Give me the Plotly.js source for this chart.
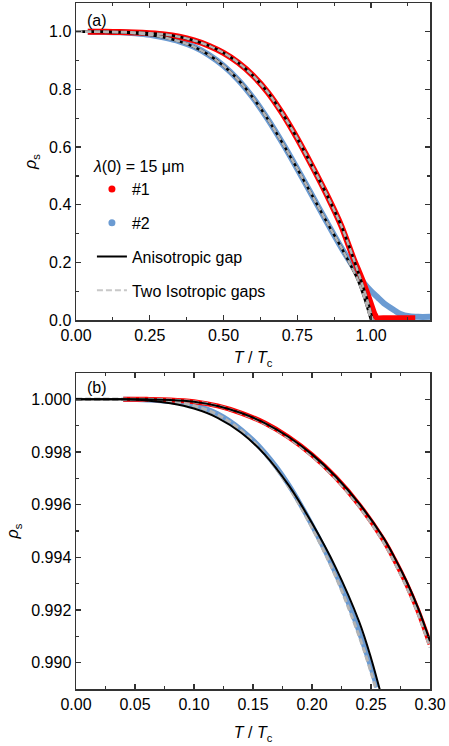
<!DOCTYPE html>
<html>
<head>
<meta charset="utf-8">
<script src="https://cdn.plot.ly/plotly-3.0.1.min.js"></script>
<style>html,body{margin:0;padding:0;background:#fff;}#chart{width:449px;height:746px;}</style>
</head>
<body>
<div id="chart"></div>
<script>
// ---------- Panel (a): full temperature range ----------
const aT1 = [0.04, 0.10, 0.15, 0.20, 0.25, 0.30, 0.35, 0.40, 0.45, 0.50, 0.55, 0.60, 0.65, 0.70, 0.75, 0.80, 0.85, 0.90, 0.94, 0.97, 1.00, 1.012, 1.02, 1.05, 1.15];
const aR1 = [1.0, 0.9999, 0.9995, 0.998, 0.995, 0.991, 0.983, 0.97, 0.952, 0.927, 0.893, 0.848, 0.79, 0.716, 0.63, 0.535, 0.435, 0.325, 0.215, 0.14, 0.055, 0.02, 0.007, 0.006, 0.006];
const aT2 = [0.04, 0.10, 0.15, 0.20, 0.25, 0.30, 0.35, 0.40, 0.45, 0.50, 0.55, 0.60, 0.65, 0.70, 0.75, 0.80, 0.85, 0.90, 0.95, 0.976, 1.0, 1.023, 1.044, 1.079, 1.10, 1.13, 1.16, 1.2];
const aR2 = [1.0, 0.9998, 0.9985, 0.9952, 0.9898, 0.98, 0.967, 0.948, 0.92, 0.882, 0.833, 0.771, 0.697, 0.614, 0.525, 0.433, 0.34, 0.25, 0.168, 0.128, 0.10, 0.078, 0.058, 0.034, 0.021, 0.013, 0.011, 0.011];
// fits, panel (a)
const aFitT1 = [0, 0.10, 0.15, 0.20, 0.25, 0.30, 0.35, 0.40, 0.45, 0.50, 0.55, 0.60, 0.65, 0.70, 0.75, 0.80, 0.85, 0.90, 0.94, 0.97, 0.99, 1.005];
const aFitR1 = [1.0, 0.9999, 0.9995, 0.998, 0.995, 0.991, 0.983, 0.97, 0.952, 0.927, 0.893, 0.848, 0.79, 0.716, 0.63, 0.535, 0.435, 0.325, 0.215, 0.125, 0.06, 0.0];
const aFitT2 = [0, 0.10, 0.15, 0.20, 0.25, 0.30, 0.35, 0.40, 0.45, 0.50, 0.55, 0.60, 0.65, 0.70, 0.75, 0.80, 0.85, 0.90, 0.93, 0.955, 0.978, 1.0];
const aFitR2 = [1.0, 0.9998, 0.9985, 0.9952, 0.9898, 0.98, 0.967, 0.948, 0.92, 0.882, 0.833, 0.771, 0.697, 0.614, 0.525, 0.433, 0.34, 0.25, 0.192, 0.14, 0.075, 0.0];

// ---------- Panel (b): low temperature zoom ----------
const bT1 = [0.04, 0.06, 0.08, 0.10, 0.12, 0.14, 0.16, 0.18, 0.20, 0.22, 0.24, 0.26, 0.27, 0.28, 0.29, 0.30];
const bR1 = [1.0, 1.0, 0.99998, 0.99991, 0.99975, 0.99948, 0.9991, 0.99857, 0.99789, 0.99704, 0.99599, 0.9947, 0.9939, 0.993, 0.99195, 0.9907];
const bT2 = [0.04, 0.06, 0.08, 0.10, 0.11, 0.12, 0.13, 0.14, 0.15, 0.16, 0.17, 0.18, 0.19, 0.20, 0.21, 0.22, 0.23, 0.24, 0.25, 0.255];
const bR2 = [1.0, 0.99998, 0.99992, 0.99978, 0.99965, 0.99945, 0.99918, 0.99885, 0.99845, 0.99798, 0.99742, 0.99677, 0.99603, 0.99522, 0.99435, 0.9934, 0.99236, 0.99117, 0.98982, 0.98906];
// anisotropic gap fits, panel (b)
const bAnT1 = [0, 0.04, 0.06, 0.08, 0.10, 0.12, 0.14, 0.16, 0.18, 0.20, 0.22, 0.24, 0.26, 0.27, 0.28, 0.29, 0.30];
const bAnR1 = [1.0, 1.0, 1.0, 0.99998, 0.99991, 0.99975, 0.99948, 0.9991, 0.99858, 0.99791, 0.99707, 0.99604, 0.99478, 0.99399, 0.9931, 0.99206, 0.99082];
const bAnT2 = [0, 0.04, 0.06, 0.08, 0.10, 0.12, 0.14, 0.16, 0.18, 0.20, 0.22, 0.24, 0.25, 0.257, 0.26];
const bAnR2 = [1.0, 1.0, 0.99996, 0.99985, 0.99965, 0.9993, 0.99873, 0.9979, 0.99675, 0.9953, 0.99362, 0.99155, 0.99018, 0.98905, 0.98855];
// two isotropic gaps fits, panel (b)
const bIsT1 = [0, 0.04, 0.06, 0.08, 0.10, 0.12, 0.14, 0.16, 0.18, 0.20, 0.22, 0.24, 0.26, 0.27, 0.28, 0.29, 0.30];
const bIsR1 = [1.0, 1.0, 1.0, 0.99998, 0.99991, 0.99975, 0.99947, 0.99908, 0.99854, 0.99785, 0.99699, 0.99593, 0.99462, 0.9938, 0.99289, 0.99184, 0.99058];
const bIsT2 = [0, 0.04, 0.06, 0.08, 0.10, 0.12, 0.14, 0.16, 0.18, 0.20, 0.22, 0.24, 0.25, 0.255];
const bIsR2 = [1.0, 1.0, 0.99998, 0.99992, 0.99976, 0.99942, 0.99881, 0.99792, 0.99669, 0.99512, 0.99328, 0.991, 0.98964, 0.98886];

const legendLabels = ['#1', '#2', 'Anisotropic gap', 'Two Isotropic gaps'];

const RED = '#ff0000', BLUE = '#6b9bd2', GRAY = '#b4b4b4', BLACK = '#000000';
const FONT = 'Arial, "Liberation Sans", sans-serif';
const isoDash = '6px,3px';

const traces = [
  // legend-only entries
  {x:[null], y:[null], mode:'markers', marker:{color:RED, size:7}, name:legendLabels[0], legendgroup:'g1', xaxis:'x', yaxis:'y'},
  {x:[null], y:[null], mode:'markers', marker:{color:BLUE, size:7}, name:legendLabels[1], legendgroup:'g2', xaxis:'x', yaxis:'y'},
  {x:[null], y:[null], mode:'lines', line:{color:BLACK, width:2}, name:legendLabels[2], legendgroup:'g3', xaxis:'x', yaxis:'y'},
  {x:[null], y:[null], mode:'lines', line:{color:'#c8c8c8', width:2, dash:isoDash}, name:legendLabels[3], legendgroup:'g4', xaxis:'x', yaxis:'y'},
  // panel (a) data
  {x:aT2, y:aR2, mode:'lines', line:{color:BLUE, width:6, shape:'spline', smoothing:0.8}, showlegend:false, xaxis:'x', yaxis:'y'},
  {x:aT1, y:aR1, mode:'lines', line:{color:RED, width:6, shape:'spline', smoothing:0.6}, showlegend:false, xaxis:'x', yaxis:'y'},
  // panel (a) fits
  {x:aFitT1, y:aFitR1, mode:'lines', line:{color:BLACK, width:2.5, shape:'spline', smoothing:0.8}, showlegend:false, xaxis:'x', yaxis:'y'},
  {x:aFitT2, y:aFitR2, mode:'lines', line:{color:BLACK, width:2.5, shape:'spline', smoothing:0.8}, showlegend:false, xaxis:'x', yaxis:'y'},
  {x:aFitT1, y:aFitR1, mode:'lines', line:{color:GRAY, width:2.5, dash:isoDash, shape:'spline', smoothing:0.8}, showlegend:false, xaxis:'x', yaxis:'y'},
  {x:aFitT2, y:aFitR2, mode:'lines', line:{color:GRAY, width:2.5, dash:isoDash, shape:'spline', smoothing:0.8}, showlegend:false, xaxis:'x', yaxis:'y'},
  // panel (b) data
  {x:bT2, y:bR2, mode:'lines', line:{color:BLUE, width:5, shape:'spline'}, showlegend:false, xaxis:'x2', yaxis:'y2'},
  {x:bT1, y:bR1, mode:'lines', line:{color:RED, width:5, shape:'spline'}, showlegend:false, xaxis:'x2', yaxis:'y2'},
  // panel (b) fits
  {x:bIsT2, y:bIsR2, mode:'lines', line:{color:GRAY, width:3, dash:isoDash, shape:'spline'}, showlegend:false, xaxis:'x2', yaxis:'y2'},
  {x:bIsT1, y:bIsR1, mode:'lines', line:{color:GRAY, width:3, dash:isoDash, shape:'spline'}, showlegend:false, xaxis:'x2', yaxis:'y2'},
  {x:bAnT2, y:bAnR2, mode:'lines', line:{color:BLACK, width:2, shape:'spline'}, showlegend:false, xaxis:'x2', yaxis:'y2'},
  {x:bAnT1, y:bAnR1, mode:'lines', line:{color:BLACK, width:2, shape:'spline'}, showlegend:false, xaxis:'x2', yaxis:'y2'}
];

const axisBase = {
  showline:true, linecolor:'#333', linewidth:1.5, mirror:'allticks',
  ticks:'inside', ticklen:5, tickwidth:1.2, tickcolor:'#333',
  showgrid:false, zeroline:false,
  tickfont:{family:FONT, size:16, color:'#000'}
};
const titleFont = {family:FONT, size:16, color:'#000'};

const layout = {
  width:449, height:746,
  margin:{l:76, r:19, t:3, b:57},
  paper_bgcolor:'#fff', plot_bgcolor:'#fff',
  font:{family:FONT, size:16, color:'#000'},
  xaxis:Object.assign({}, axisBase, {domain:[0,1], anchor:'y', range:[0,1.2], tick0:0, dtick:0.25, tickformat:'.2f',
    minor:{ticks:'inside', ticklen:3, tick0:0, dtick:0.125, tickcolor:'#333'},
    title:{text:'<i>T</i> / <i>T</i><sub>c</sub>', font:titleFont, standoff:9}}),
  yaxis:Object.assign({}, axisBase, {domain:[0.5379,1], anchor:'x', range:[0,1.1], tick0:0, dtick:0.2, tickformat:'.1f',
    minor:{ticks:'inside', ticklen:3, tick0:0, dtick:0.1, tickcolor:'#333'},
    title:{text:'<i>ρ</i><sub>s</sub>', font:titleFont, standoff:8}}),
  xaxis2:Object.assign({}, axisBase, {domain:[0,1], anchor:'y2', range:[0,0.3], tick0:0, dtick:0.05, tickformat:'.2f',
    minor:{ticks:'inside', ticklen:3, tick0:0, dtick:0.025, tickcolor:'#333'},
    title:{text:'<i>T</i> / <i>T</i><sub>c</sub>', font:titleFont, standoff:15}}),
  yaxis2:Object.assign({}, axisBase, {domain:[0,0.4606], anchor:'x2', range:[0.989,1.001], tick0:0.99, dtick:0.002, tickformat:'.3f',
    minor:{ticks:'inside', ticklen:3, tick0:0.99, dtick:0.001, tickcolor:'#333'},
    title:{text:'<i>ρ</i><sub>s</sub>', font:titleFont, standoff:8}}),
  showlegend:true,
  legend:{
    x:0.045, y:0.784, xanchor:'left', yanchor:'top',
    bgcolor:'rgba(0,0,0,0)', borderwidth:0,
    font:{family:FONT, size:16, color:'#000'},
    title:{text:'<i>λ</i>(0) = 15 μm', font:{family:FONT, size:16, color:'#000'}},
    tracegroupgap:10, itemwidth:30
  },
  annotations:[
    {text:'(a)', xref:'x domain', yref:'y domain', x:0.025, y:0.946, xanchor:'left', yanchor:'middle', showarrow:false, font:{family:FONT, size:16, color:'#000'}},
    {text:'(b)', xref:'x2 domain', yref:'y2 domain', x:0.025, y:0.953, xanchor:'left', yanchor:'middle', showarrow:false, font:{family:FONT, size:16, color:'#000'}}
  ]
};

Plotly.newPlot('chart', traces, layout, {displayModeBar:false, staticPlot:true});
</script>
</body>
</html>
